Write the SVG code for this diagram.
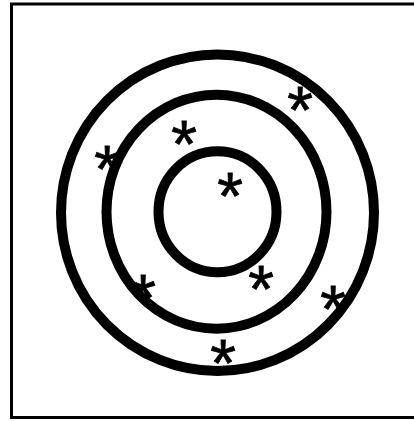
<svg xmlns="http://www.w3.org/2000/svg" width="414" height="421" viewBox="0 0 414 421">
<style>
.ring{fill:none;stroke:#000;stroke-width:10}
.star{font-family:"Liberation Sans",Arial,sans-serif;font-size:66px;fill:#000;stroke:#000;stroke-width:0.8;text-anchor:middle}
</style>
<rect width="414" height="421" fill="#fff"/>
<rect x="11.5" y="4" width="412" height="413.5" fill="none" stroke="#000" stroke-width="3"/>
<g id="rings">
<ellipse class="ring" cx="217.5" cy="212.7" rx="156.5" ry="158.3"/>
<ellipse class="ring" cx="216.5" cy="211.7" rx="110" ry="117"/>
<ellipse class="ring" cx="217.5" cy="211.8" rx="59" ry="60.5"/>
</g>
<g id="stars">
<text class="star" x="300" y="133">*</text>
<text class="star" x="184" y="167">*</text>
<text class="star" x="107" y="192">*</text>
<text class="star" x="230" y="219">*</text>
<text class="star" x="261" y="312">*</text>
<text class="star" x="143" y="321">*</text>
<text class="star" x="333" y="332">*</text>
<text class="star" x="223" y="386">*</text>
</g>
</svg>
